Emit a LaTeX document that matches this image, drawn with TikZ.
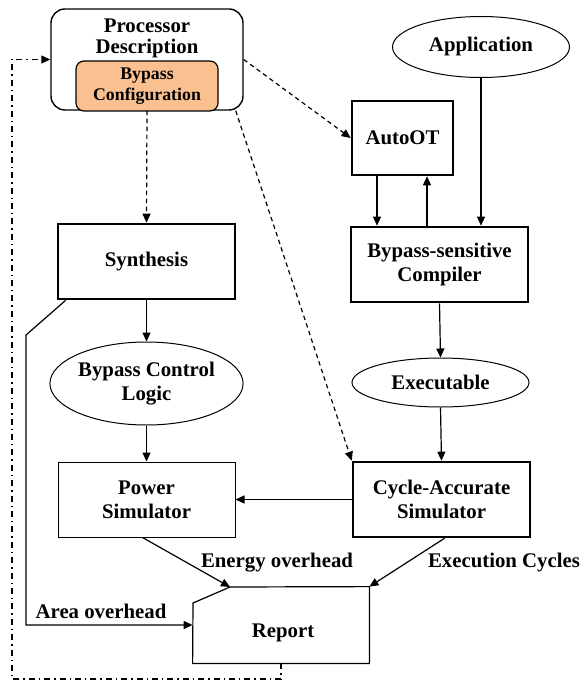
\documentclass[tikz,border=0pt]{standalone}
\usepackage{fontspec}
\setmainfont{Liberation Serif}
\usetikzlibrary{arrows.meta,shapes.geometric}
\definecolor{cfgorange}{HTML}{FAC090}

\tikzset{
  every node/.style={font=\bfseries\fontsize{10.4}{12}\selectfont, align=center},
  box/.style={draw, line width=0.5pt, minimum width=88.5pt, minimum height=37.5pt},
  thickbox/.style={box, line width=1.3pt},
  oval/.style={draw, ellipse, line width=0.5pt, minimum width=88.5pt, inner sep=0pt},
  flow/.style={line width=0.6pt, -{Triangle[length=4.5pt,width=4pt]}},
  hint/.style={flow, dash pattern=on 2.2pt off 1.8pt},
  loopback/.style={flow, dash pattern=on 3pt off 2pt on 0.7pt off 2pt},
}

\begin{document}
\begin{tikzpicture}[x=0.5pt, y=-0.5pt]
    \useasboundingbox (0,0) rectangle (581,684);

    % processor description with the bypass configuration inside
    \node (proc) [draw, line width=0.7pt, rounded corners=7pt, minimum width=96pt, minimum height=50.5pt] at (147,59.5) {};
    \node (proctxt) [font=\bfseries\fontsize{10.4}{10.6}\selectfont] at (147,38.5) {Processor\\Description};
    \node (bypass) [draw, line width=0.6pt, fill=cfgorange, rounded corners=4pt, minimum width=71pt, minimum height=21pt,
      font=\bfseries\fontsize{8.9}{10.5}\selectfont] at (147,86) {Bypass\\Configuration};

    % right column
    \node (app) [oval, minimum height=30.5pt] at (481,47) {Application};
    \node (autoot) [thickbox, minimum width=50.5pt, minimum height=37pt] at (402.5,138) {AutoOT};
    \node (comp) [thickbox] at (439.5,264.5) {Bypass-sensitive\\Compiler};
    \node (exe) [oval, minimum height=24.5pt] at (440.5,382.5) {Executable};
    \node (cas) [thickbox] at (441.5,499.5) {Cycle-Accurate\\Simulator};

    % left column
    \node (syn) [thickbox] at (146.5,261.5) {Synthesis};
    \node (bcl) [oval, minimum height=41.5pt] at (146.5,383.5) {Bypass Control\\Logic};
    \node (pow) [box] at (146.5,499.5) {Power\\Simulator};

    % report with its clipped corner
    \node (report) [minimum width=88pt, minimum height=38pt] at (281,625) {};
    \node (reporttxt) at (283,633) {Report};
    \coordinate (rtop) at (230,587);
    \draw[line width=0.6pt] (rtop) -- (report.north east) -- (report.south east)
      -- (report.south west) -- (193,603) -- cycle;

    \node (energy) at (277,563) {Energy overhead};
    \node (cycles) at (504,563) {Execution Cycles};
    \node (area) at (101,611) {Area overhead};

    % connectors
    \draw[hint] (proc.south) -- (syn.north);
    \draw[hint] (proc.east) -- (autoot.west);
    \draw[hint] ([xshift=-4pt]proc.south east) -- (cas.north west);
    \draw[flow] (app.south) -- (app.south |- comp.north);
    \draw[flow] ([xshift=-12.75pt]autoot.south) -- ([xshift=-12.75pt]autoot.south |- comp.north);
    \draw[flow] ([xshift=12.25pt]autoot.south |- comp.north) -- ([xshift=12.25pt]autoot.south);
    \draw[flow] (comp.south) -- (exe.north);
    \draw[flow] (exe.south) -- (cas.north);
    \draw[flow] (cas.west) -- (pow.east);
    \draw[flow] (syn.south) -- (bcl.north);
    \draw[flow] (bcl.south) -- (pow.north);
    \draw[flow] ([xshift=-2pt]pow.south) -- (rtop);
    \draw[flow] ([xshift=1.5pt]cas.south) -- (report.north east);
    \draw[flow] ([xshift=4.5pt]syn.south west) -- (26,335) -- (26,625) -- (report.west);
    \draw[loopback] (report.south) |- (12,679) |- (proc.west);
  \end{tikzpicture}
\end{document}
